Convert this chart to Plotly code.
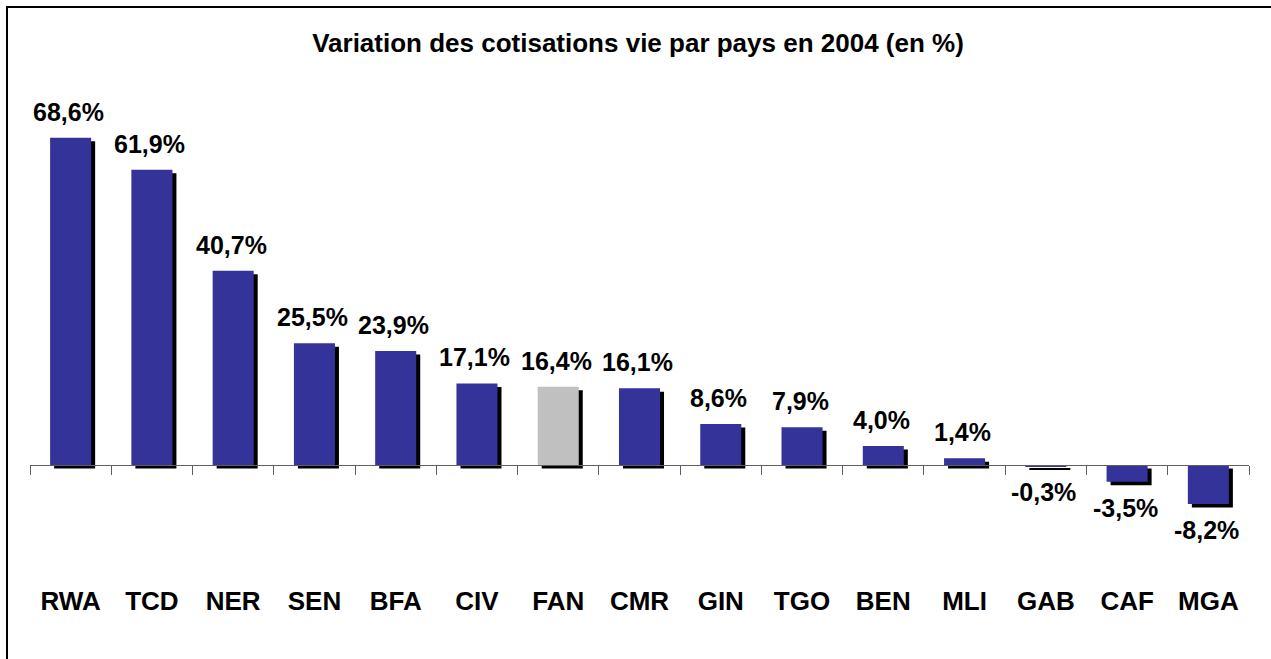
import plotly.graph_objects as go

# ---- data ----
countries = ["RWA", "TCD", "NER", "SEN", "BFA", "CIV", "FAN", "CMR",
             "GIN", "TGO", "BEN", "MLI", "GAB", "CAF", "MGA"]
variation = [68.6, 61.9, 40.7, 25.5, 23.9, 17.1, 16.4, 16.1,
             8.6, 7.9, 4.0, 1.4, -0.3, -3.5, -8.2]
highlight = "FAN"
title_text = "Variation des cotisations vie par pays en 2004 (en %)"

# ---- styling ----
W, H = 1271, 659
ML, MR, MT, MB = 30, 22, 95, 76
plot_w = W - ML - MR
plot_h = H - MT - MB
zero_px = 465.0
px_per_unit = 4.77
y_top = (zero_px - MT) / px_per_unit
y_bot = -((H - MB) - zero_px) / px_per_unit

BAR_W = 0.505
shadow_dx = 4.0 / (plot_w / len(countries))
shadow_dy = 3.5 / px_per_unit

BLUE = "#333399"
GREY = "#C0C0C0"
FONT = "Liberation Sans, Arial, sans-serif"

colors = [GREY if c == highlight else BLUE for c in countries]

fig = go.Figure()

# shadow bars
fig.add_trace(go.Bar(
    x=countries, y=variation, base=-shadow_dy,
    width=BAR_W, offset=-BAR_W / 2 + shadow_dx,
    marker=dict(color="black", line=dict(width=0)),
    hoverinfo="skip", showlegend=False,
))
# main bars
fig.add_trace(go.Bar(
    x=countries, y=variation,
    width=BAR_W, offset=-BAR_W / 2,
    marker=dict(color=colors, line=dict(width=0)),
    showlegend=False,
))
# invisible trace so the zero-line axis renders
fig.add_trace(go.Scatter(
    x=countries, y=[0] * len(countries), xaxis="x2", yaxis="y",
    mode="none", hoverinfo="skip", showlegend=False,
))

# value labels
for c, v in zip(countries, variation):
    label = f"{v:.1f}%".replace(".", ",")
    if v >= 0:
        fig.add_annotation(x=c, y=v, text=label, showarrow=False,
                           yanchor="bottom", yshift=10, xshift=-2,
                           font=dict(family=FONT, size=25, color="black", weight="bold"))
    else:
        fig.add_annotation(x=c, y=v, text=label, showarrow=False,
                           yanchor="top", yshift=-10, xshift=-2,
                           font=dict(family=FONT, size=25, color="black", weight="bold"))

# chart border (left & top visible)
fig.add_shape(type="rect", xref="paper", yref="paper",
              x0=(7 - ML) / plot_w, x1=(W + 10 - ML) / plot_w,
              y0=((H - MB) - (H + 10)) / plot_h, y1=((H - MB) - 7) / plot_h,
              line=dict(color="black", width=2), fillcolor="rgba(0,0,0,0)",
              layer="above")

fig.update_layout(
    width=W, height=H,
    margin=dict(l=ML, r=MR, t=MT, b=MB),
    paper_bgcolor="white", plot_bgcolor="white",
    barmode="overlay",
    title=dict(text=title_text, x=638 / W, xref="container", xanchor="center",
               y=1 - 43 / H, yref="container", yanchor="middle",
               font=dict(family=FONT, size=26, color="black", weight="bold")),
    xaxis=dict(type="category", categoryorder="array", categoryarray=countries,
               range=[-0.5, len(countries) - 0.5],
               showline=False, ticks="", showgrid=False, zeroline=False,
               tickfont=dict(family=FONT, size=26, color="black", weight="bold")),
    xaxis2=dict(type="category", categoryorder="array", categoryarray=countries,
                range=[-0.5, len(countries) - 0.5],
                overlaying="x", anchor="free",
                position=((H - MB) - zero_px) / plot_h,
                showline=True, linecolor="#606060", linewidth=1,
                ticks="outside", tickson="boundaries", ticklen=9,
                tickcolor="#606060", tickwidth=1,
                showticklabels=False, showgrid=False, zeroline=False),
    yaxis=dict(range=[y_bot, y_top], visible=False, showgrid=False, zeroline=False),
    hovermode=False,
)

fig.write_html("out.html", config={"displayModeBar": False},
               post_script="document.body.style.margin='0';")
